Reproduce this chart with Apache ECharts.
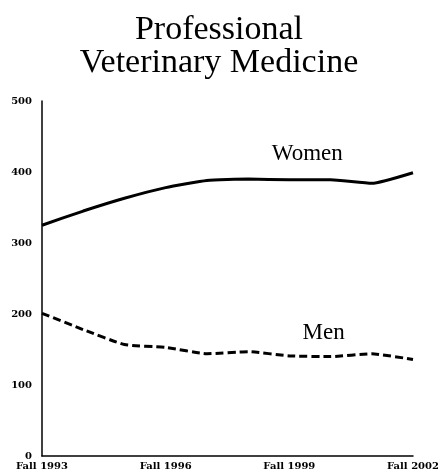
<!DOCTYPE html>
<html>
<head>
<meta charset="utf-8">
<script src="https://cdn.jsdelivr.net/npm/echarts@6/dist/echarts.min.js"></script>
<style>
  html, body { margin: 0; padding: 0; background: #fff; }
  #main { width: 438px; height: 474px; }
</style>
</head>
<body>
<div id="main"></div>
<script>
// data
var years = ['Fall 1993', 'Fall 1994', 'Fall 1995', 'Fall 1996', 'Fall 1997',
             'Fall 1998', 'Fall 1999', 'Fall 2000', 'Fall 2001', 'Fall 2002'];
var women = [325, 345, 363, 378, 388, 390, 389, 389, 384, 399];
var men = [201, 178, 157, 153, 144, 147, 141, 140, 144, 136];
var yTicks = [0, 100, 200, 300, 400, 500];

var serif = '"Liberation Serif", "DejaVu Serif", serif';
var tickFont = '"DejaVu Serif", serif';

var myChart = echarts.init(document.getElementById('main'));

var option = {
    animation: false,
    title: {
        text: 'Professional\nVeterinary Medicine',
        left: 'center',
        top: 9,
        textStyle: {
            fontFamily: serif,
            fontWeight: 'normal',
            fontSize: 34,
            lineHeight: 33,
            color: '#000'
        }
    },
    grid: {
        left: 42,
        right: 25,
        top: 101,
        bottom: 18,
        containLabel: false,
        outerBoundsMode: 'none'
    },
    xAxis: {
        type: 'category',
        data: years,
        boundaryGap: false,
        axisTick: { show: false },
        axisLine: { lineStyle: { color: '#000', width: 1.5 } },
        axisLabel: {
            interval: 2,
            margin: 5,
            fontFamily: tickFont,
            fontWeight: 'bold',
            fontSize: 10,
            color: '#000'
        }
    },
    yAxis: {
        type: 'value',
        min: yTicks[0],
        max: yTicks[yTicks.length - 1],
        interval: 100,
        splitLine: { show: false },
        axisTick: { show: false },
        axisLine: { show: true, lineStyle: { color: '#000', width: 1.5 } },
        axisLabel: {
            margin: 10,
            fontFamily: tickFont,
            fontWeight: 'bold',
            fontSize: 10,
            color: '#000'
        }
    },
    series: [
        {
            name: 'Women',
            type: 'line',
            data: women,
            symbol: 'none',
            smooth: 0.15,
            lineStyle: { color: '#000', width: 3 },
            markPoint: {
                symbol: 'circle',
                symbolSize: 0,
                data: [{ coord: [6, 425] }],
                label: {
                    show: true,
                    position: 'inside',
                    formatter: 'Women',
                    offset: [18, 0],
                    fontFamily: serif,
                    fontSize: 23,
                    color: '#000'
                }
            }
        },
        {
            name: 'Men',
            type: 'line',
            data: men,
            symbol: 'none',
            smooth: 0.15,
            lineStyle: { color: '#000', width: 3, type: [8, 4] },
            markPoint: {
                symbol: 'circle',
                symbolSize: 0,
                data: [{ coord: [7, 173] }],
                label: {
                    show: true,
                    position: 'inside',
                    formatter: 'Men',
                    offset: [-7, 0],
                    fontFamily: serif,
                    fontSize: 23,
                    color: '#000'
                }
            }
        }
    ]
};

myChart.setOption(option);
</script>
</body>
</html>
